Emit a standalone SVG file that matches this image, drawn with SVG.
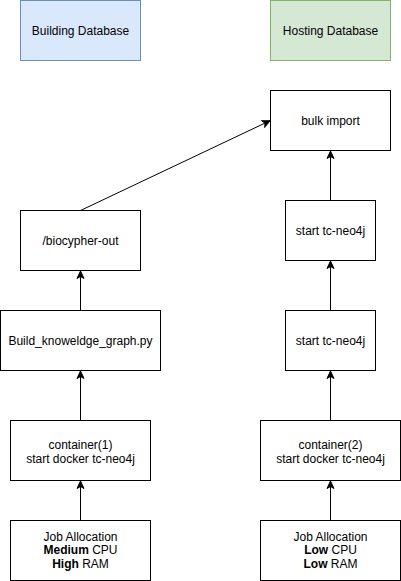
<svg xmlns="http://www.w3.org/2000/svg" width="401" height="581" viewBox="0 0 401 581">
<style>
.box{fill:#ffffff;stroke:#000000;stroke-width:1}
.t{font-family:"Liberation Sans",Arial,Helvetica,sans-serif;font-size:12px;fill:#000000;text-anchor:middle}
.b{font-weight:bold}
.edge{stroke:#000000;stroke-width:1;fill:none;marker-end:url(#arr)}
</style>
<defs>
<marker id="arr" markerUnits="userSpaceOnUse" markerWidth="10" markerHeight="10" refX="8" refY="4.5" orient="auto" viewBox="0 0 10 9">
<path d="M0.5,1 L8,4.5 L0.5,8 L2.5,4.5 Z" fill="#000000" stroke="#000000" stroke-width="1"/>
</marker>
</defs>
<rect width="401" height="581" fill="#ffffff"/>
<g id="building-db">
<rect x="20.5" y="0.5" width="120" height="60" fill="#dae8fc" stroke="#6c8ebf"/>
<text class="t" x="80.5" y="34.5">Building Database</text>
</g>
<g id="hosting-db">
<rect x="270.5" y="0.5" width="120" height="60" fill="#d5e8d4" stroke="#82b366"/>
<text class="t" x="330.5" y="34.5">Hosting Database</text>
</g>
<g id="bulk-import">
<rect class="box" x="270.5" y="90.5" width="120" height="60"/>
<text class="t" x="330.5" y="124.5">bulk import</text>
</g>
<g id="biocypher-out">
<rect class="box" x="20.5" y="210.5" width="120" height="60"/>
<text class="t" x="80.5" y="244.5">/biocypher-out</text>
</g>
<g id="start-neo4j-1">
<rect class="box" x="285.5" y="200.5" width="90" height="60"/>
<text class="t" x="330.5" y="234.5">start tc-neo4j</text>
</g>
<g id="start-neo4j-2">
<rect class="box" x="285.5" y="310.5" width="90" height="60"/>
<text class="t" x="330.5" y="344.5">start tc-neo4j</text>
</g>
<g id="build-kg">
<rect class="box" x="0.5" y="310.5" width="160" height="60"/>
<text class="t" x="80.5" y="344.5">Build_knoweldge_graph.py</text>
</g>
<g id="container-1">
<rect class="box" x="10.5" y="420.5" width="140" height="60"/>
<text class="t" x="80.5" y="448.5">container(1)</text>
<text class="t" x="80.5" y="462.5">start docker tc-neo4j</text>
</g>
<g id="container-2">
<rect class="box" x="260.5" y="420.5" width="140" height="60"/>
<text class="t" x="330.5" y="448.5">container(2)</text>
<text class="t" x="330.5" y="462.5">start docker tc-neo4j</text>
</g>
<g id="job-1">
<rect class="box" x="10.5" y="520.5" width="140" height="60"/>
<text class="t" x="80.5" y="540.5">Job Allocation</text>
<text class="t" x="80.5" y="554"><tspan class="b">Medium</tspan> CPU</text>
<text class="t" x="80.5" y="567.5"><tspan class="b">High</tspan> RAM</text>
</g>
<g id="job-2">
<rect class="box" x="260.5" y="520.5" width="140" height="60"/>
<text class="t" x="330.5" y="540.5">Job Allocation</text>
<text class="t" x="330.5" y="554"><tspan class="b">Low</tspan> CPU</text>
<text class="t" x="330.5" y="567.5"><tspan class="b">Low</tspan> RAM</text>
</g>
<g id="connectors">
<line class="edge" x1="80.5" y1="520.5" x2="80.5" y2="481"/>
<line class="edge" x1="80.5" y1="420.5" x2="80.5" y2="371"/>
<line class="edge" x1="80.5" y1="310.5" x2="80.5" y2="271"/>
<line class="edge" x1="80.5" y1="210.5" x2="270" y2="120.7"/>
<line class="edge" x1="330.5" y1="520.5" x2="330.5" y2="481"/>
<line class="edge" x1="330.5" y1="420.5" x2="330.5" y2="371"/>
<line class="edge" x1="330.5" y1="310.5" x2="330.5" y2="261"/>
<line class="edge" x1="330.5" y1="200.5" x2="330.5" y2="151"/>
</g>
</svg>
